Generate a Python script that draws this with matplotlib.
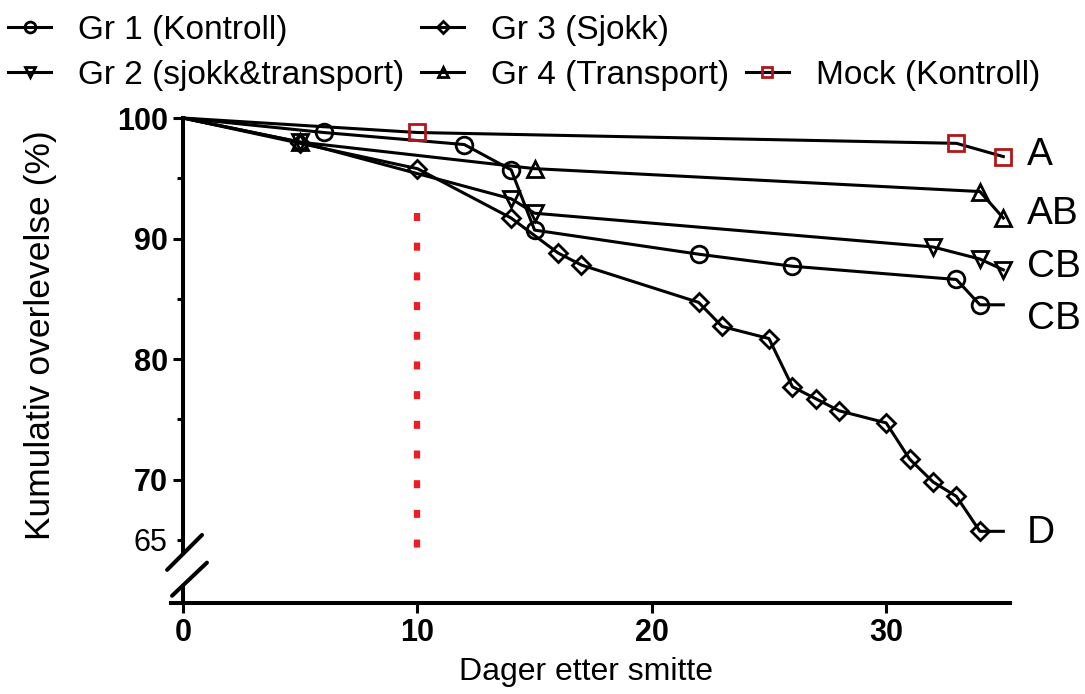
import matplotlib
matplotlib.use("Agg")
import matplotlib.pyplot as plt
from matplotlib.lines import Line2D
from matplotlib.ticker import FixedLocator, FuncFormatter

plt.rcParams['font.family'] = ['Liberation Sans', 'DejaVu Sans']

# data
dager_gr1 = [0, 6, 12, 14, 15, 22, 26, 33, 34, 35]
overl_gr1 = [100, 98.8, 97.8, 95.7, 90.7, 88.7, 87.7, 86.6, 84.5, 84.5]

dager_gr2 = [0, 5, 14, 15, 32, 34, 35]
overl_gr2 = [100, 98.0, 93.3, 92.1, 89.3, 88.3, 87.4]

dager_gr3 = [0, 5, 10, 14, 16, 17, 22, 23, 25, 26, 27, 28, 30, 31, 32, 33, 34, 35]
overl_gr3 = [100, 97.9, 95.8, 91.7, 88.8, 87.8, 84.7, 82.7, 81.7, 77.7, 76.7, 75.7,
             74.7, 71.7, 69.8, 68.6, 65.7, 65.7]

dager_gr4 = [0, 5, 15, 34, 35]
overl_gr4 = [100, 98.0, 95.8, 93.9, 91.7]

dager_mock = [0, 10, 33, 35]
overl_mock = [100, 98.8, 97.9, 96.8]

behandling_dag = 10
behandling_y = [92.1, 64.3]

bokstaver = ['A', 'AB', 'CB', 'CB', 'D']
bokstav_y = [96.9, 92.0, 87.6, 83.3, 65.6]

fig = plt.figure(figsize=(10.85, 6.94), dpi=100)
ax = fig.add_axes([0.1579, 0.1311, 0.7733, 0.7075])
ax.set_xlim(-0.5, 35.3)
ax.set_ylim(59.75, 100.5)

lw = 2.2
mew = 2.0
# ingen markør ved dag 0, og ikke ved siste (forlenget) punkt for gr 1 og gr 3
l1, = ax.plot(dager_gr1, overl_gr1, color='black', lw=lw, marker='o', ms=12,
              markevery=list(range(1, len(dager_gr1) - 1)),
              mfc='none', mec='black', mew=mew, clip_on=False, label='Gr 1 (Kontroll)')
l2, = ax.plot(dager_gr2, overl_gr2, color='black', lw=lw, marker='v', ms=12,
              markevery=list(range(1, len(dager_gr2))),
              mfc='none', mec='black', mew=mew, clip_on=False, label='Gr 2 (sjokk&transport)')
l3, = ax.plot(dager_gr3, overl_gr3, color='black', lw=lw, marker='D', ms=9.5,
              markevery=list(range(1, len(dager_gr3) - 1)),
              mfc='none', mec='black', mew=mew, clip_on=False, label='Gr 3 (Sjokk)')
l4, = ax.plot(dager_gr4, overl_gr4, color='black', lw=lw, marker='^', ms=12,
              markevery=list(range(1, len(dager_gr4))),
              mfc='none', mec='black', mew=mew, clip_on=False, label='Gr 4 (Transport)')
l5, = ax.plot(dager_mock, overl_mock, color='black', lw=lw, marker='s', ms=11,
              markevery=list(range(1, len(dager_mock))),
              mfc='none', mec='#b0171c', mew=mew, clip_on=False, label='Mock (Kontroll)')

# stiplet linje ved dag 10 (tegnes ovenfra og ned)
ax.plot([behandling_dag, behandling_dag], behandling_y, color='#ee1c25', lw=4.5,
        linestyle=(0, (1.28, 3.47)), dash_capstyle='butt', solid_capstyle='butt')

for b, yy in zip(bokstaver, bokstav_y):
    ax.text(36.0, yy, b, fontsize=28, ha='left', va='center')

# akser
for s in ['top', 'right']:
    ax.spines[s].set_visible(False)
ax.spines['left'].set_position(('data', 0))
ax.spines['left'].set_bounds(63.9, 100)
ax.spines['left'].set_linewidth(2.9)
ax.spines['bottom'].set_linewidth(2.9)
ax.plot([0, 0], [59.75, 61.2], color='black', lw=2.9, clip_on=False, solid_capstyle='butt')
# brudd-merker
ax.plot([-0.68, 0.81], [62.5, 65.4], color='black', lw=2.9, clip_on=False, solid_capstyle='round')
ax.plot([-0.47, 1.02], [60.35, 63.1], color='black', lw=2.9, clip_on=False, solid_capstyle='round')

ax.set_xticks([0, 10, 20, 30])
ax.yaxis.set_major_locator(FixedLocator([70, 80, 90, 100]))
ax.yaxis.set_minor_locator(FixedLocator([65, 75, 85, 95]))
ax.yaxis.set_minor_formatter(FuncFormatter(lambda v, p: '65' if abs(v - 65) < 0.1 else ''))
ax.tick_params(axis='both', which='major', length=7, width=2.2, labelsize=22, pad=4)
ax.tick_params(axis='y', which='minor', length=4, width=2.2, labelsize=22, pad=7)
for t in ax.get_xticklabels() + ax.get_yticklabels():
    t.set_fontweight('bold')

ax.set_xlabel('Dager etter smitte', fontsize=23)
ax.set_ylabel('Kumulativ overlevelse (%)', fontsize=25.5)
ax.xaxis.set_label_coords(0.494, -0.11)
ax.yaxis.set_label_coords(-0.136, 0.545)

blank = Line2D([], [], linestyle='none')
fig.legend([l1, l2, l3, l4, blank, l5],
           [l1.get_label(), l2.get_label(), l3.get_label(), l4.get_label(), '', l5.get_label()],
           ncol=3, loc='upper left', bbox_to_anchor=(8 / 1085, 1 - 15 / 694),
           frameon=False, fontsize=24, handlelength=1.3, handletextpad=0.8,
           columnspacing=0.5, labelspacing=0.42, borderaxespad=0, borderpad=0,
           markerscale=0.65)

fig.savefig('out.png', dpi=100)
